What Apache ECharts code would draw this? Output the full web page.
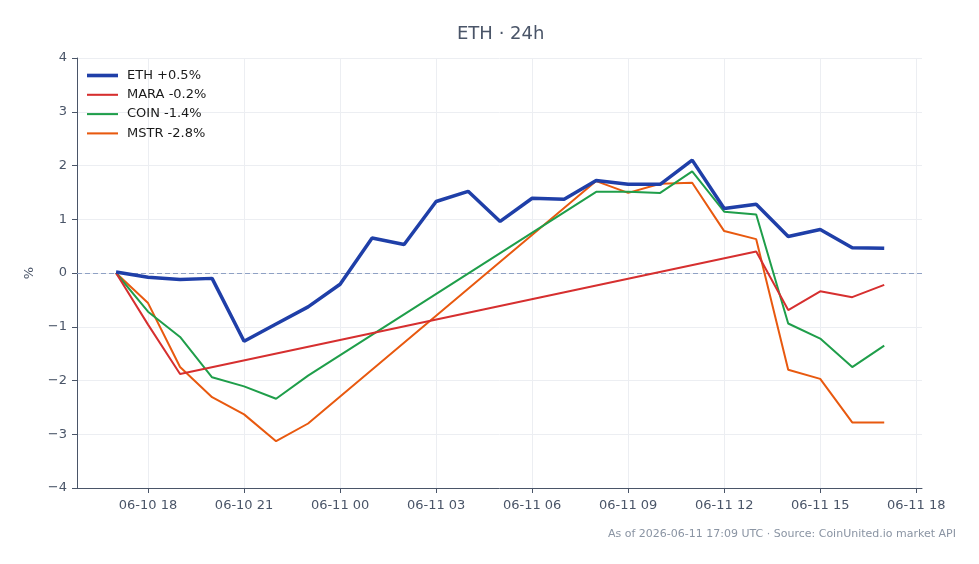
<!DOCTYPE html>
<html>
<head>
<meta charset="utf-8">
<script src="https://cdn.jsdelivr.net/npm/echarts@6/dist/echarts.min.js"></script>
<style>
  html, body { margin: 0; padding: 0; background: #fff; }
  #chart { width: 979px; height: 564px; }
</style>
</head>
<body>
<div id="chart"></div>
<script>
// x = hours since 06-10 00:00 UTC; hourly points 06-10 17:00 .. 06-11 17:00
const hours = [17, 18, 19, 20, 21, 22, 23, 24, 25, 26, 27, 28, 29,
  30, 31, 32, 33, 34, 35, 36, 37, 38, 39, 40, 41];

// % change vs start; null = no quote that hour (line is bridged)
const ethValues = [0.02, -0.08, -0.12, -0.10, -1.27, -0.95, -0.63, -0.21, 0.65, 0.53, 1.33, 1.52, 0.96,
  1.39, 1.37, 1.72, 1.65, 1.65, 2.10, 1.20, 1.28, 0.68, 0.81, 0.47, 0.46];
const maraValues = [0.00, -0.96, -1.88, null, null, null, null, null, null, null, null, null, null,
  null, null, null, null, null, null, null, 0.40, -0.69, -0.34, -0.45, -0.22];
const coinValues = [0.00, -0.72, -1.19, -1.94, -2.11, -2.34, -1.91, null, null, null, null, null, null,
  null, null, 1.51, 1.51, 1.49, 1.89, 1.14, 1.09, -0.94, -1.22, -1.75, -1.35];
const mstrValues = [0.00, -0.56, -1.75, -2.31, -2.63, -3.13, -2.80, null, null, null, null, null, null,
  null, null, 1.71, 1.49, 1.66, 1.68, 0.78, 0.63, -1.80, -1.97, -2.78, -2.78];

// x tick positions (hours since 06-10 00:00) and their labels
const xTicks = [18, 21, 24, 27, 30, 33, 36, 39, 42];
const xTickLabels = ['06-10 18', '06-10 21', '06-11 00', '06-11 03', '06-11 06',
  '06-11 09', '06-11 12', '06-11 15', '06-11 18'];

const seriesNames = ['ETH +0.5%', 'MARA -0.2%', 'COIN -1.4%', 'MSTR -2.8%'];
const seriesColors = ['#1f3fa8', '#d62f2f', '#1f9e4a', '#e8590f'];
const seriesWidths = [3.5, 2, 2, 2];

const toPoints = vals => vals.map((v, i) => [hours[i], v]);

const textColor = '#4a5568';
const font = 'DejaVu Sans';

const chart = echarts.init(document.getElementById('chart'));

const series = [ethValues, maraValues, coinValues, mstrValues].map((vals, i) => ({
  name: seriesNames[i],
  type: 'line',
  data: toPoints(vals),
  symbol: 'none',
  connectNulls: true,
  z: 10 - i,
  lineStyle: { width: seriesWidths[i], color: seriesColors[i] },
  itemStyle: { color: seriesColors[i] }
}));

// zero baseline
series[0].markLine = {
  silent: true,
  symbol: 'none',
  label: { show: false },
  lineStyle: { type: [5, 3], color: '#8fa1c4', width: 1 },
  data: [{ yAxis: 0 }]
};

// flat line icons for the legend
const legendData = seriesNames.map((name, i) => ({
  name: name,
  icon: 'path://M0,0 L30,0 L30,' + seriesWidths[i] + ' L0,' + seriesWidths[i] + ' Z'
}));

chart.setOption({
  animation: false,
  textStyle: { fontFamily: font },
  title: {
    text: 'ETH · 24h',
    left: 452,
    top: 20,
    textStyle: { color: textColor, fontSize: 18, fontWeight: 'normal', fontFamily: font }
  },
  legend: {
    orient: 'vertical',
    left: 82,
    top: 64,
    itemWidth: 31,
    itemHeight: 14,
    itemGap: 6.3,
    textStyle: { color: '#1a1a1a', fontSize: 13, fontFamily: font, padding: [0, 0, 0, 4] },
    data: legendData
  },
  grid: { left: 77, right: 57, top: 58, bottom: 76, containLabel: false },
  xAxis: {
    type: 'value',
    min: 15.78,
    max: 42.18,
    axisLine: { onZero: false, lineStyle: { color: textColor, width: 1 } },
    axisTick: { lineStyle: { color: textColor }, length: 5, customValues: xTicks },
    axisLabel: {
      color: textColor,
      fontSize: 13,
      fontFamily: font,
      margin: 11,
      customValues: xTicks,
      formatter: v => xTickLabels[xTicks.indexOf(Math.round(v))]
    },
    splitLine: { show: true, lineStyle: { color: '#eceef2', width: 1 } }
  },
  yAxis: {
    type: 'value',
    min: -4,
    max: 4,
    interval: 1,
    name: '%',
    nameLocation: 'middle',
    nameGap: 41,
    nameRotate: 90,
    nameTextStyle: { color: textColor, fontSize: 13, fontFamily: font },
    axisLine: { show: true, lineStyle: { color: textColor, width: 1 } },
    axisTick: { show: true, lineStyle: { color: textColor }, length: 5 },
    axisLabel: {
      color: textColor,
      fontSize: 13,
      fontFamily: font,
      margin: 10,
      formatter: v => (v < 0 ? '\u2212' + Math.abs(v) : String(v))
    },
    splitLine: { show: true, lineStyle: { color: '#eceef2', width: 1 } }
  },
  graphic: [{
    type: 'text',
    right: 23,
    top: 529,
    style: {
      text: 'As of 2026-06-11 17:09 UTC · Source: CoinUnited.io market API',
      fill: '#8a94a3',
      font: '11px "DejaVu Sans"'
    }
  }],
  series: series
});
</script>
</body>
</html>
